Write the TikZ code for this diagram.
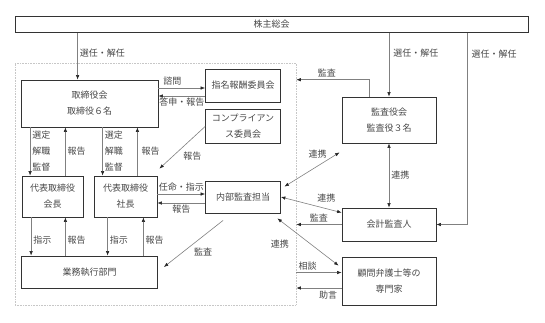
\documentclass[tikz,border=0pt]{standalone}
\usepackage{fontspec}
\newfontfamily\jpfont{Noto Sans CJK JP}
\usetikzlibrary{positioning,arrows.meta}

\begin{document}
\begin{tikzpicture}[
    x=1pt, y=-1pt,
    every node/.style={font=\jpfont\fontsize{9}{16}\selectfont, text=black!72},
    box/.style={draw=black!80, line width=0.8pt, align=center, inner sep=0pt},
    company/.style={draw=black!22, densely dotted, line width=0.6pt},
    lbl/.style={align=left, inner sep=2pt},
    arr/.style={-{Latex[length=4.5pt,width=3.5pt,color=black!85]}, draw=black!50, line width=0.6pt},
    both/.style={{Latex[length=4.5pt,width=3.5pt,color=black!85]}-{Latex[length=4.5pt,width=3.5pt,color=black!85]}, draw=black!50, line width=0.6pt}
]
\useasboundingbox (0,0) rectangle (545,322);
\node[company, minimum width=281pt, minimum height=242pt] (co) at (155.5,184) {};
\node[box, minimum width=513pt, minimum height=16pt] (soukai) at (271.5,24.5) {株主総会};
\node[box, minimum width=137pt, minimum height=47pt] (dir) at (89.5,103.5) {取締役会\\取締役６名};
\node[box, minimum width=75pt, minimum height=33pt] (nom) at (243,85.5) {指名報酬委員会};
\node[box, minimum width=75pt, minimum height=34pt] (comp) at (243,126.5) {コンプライアン\\ス委員会};
\node[box, minimum width=94pt, minimum height=46pt] (kansa) at (389,120) {監査役会\\監査役３名};
\node[box, minimum width=61pt, minimum height=41pt] (kaicho) at (52.5,196.5) {代表取締役\\会長};
\node[box, minimum width=63pt, minimum height=41pt] (shacho) at (125.5,196.5) {代表取締役\\社長};
\node[box, minimum width=75pt, minimum height=32pt] (naibu) at (243,197) {内部監査担当};
\node[box, minimum width=94pt, minimum height=33pt] (kaikei) at (389,224.5) {会計監査人};
\node[box, minimum width=94pt, minimum height=48pt] (bengo) at (389,281) {顧問弁護士等の\\専門家};
\node[box, minimum width=136pt, minimum height=32pt] (gyomu) at (89.5,272) {業務執行部門};

% 株主総会
\draw[arr] ([xshift=57pt]dir.north west |- soukai.south) -- ([xshift=57pt]dir.north west)
    node[lbl, right, pos=.43] (t1) {選任・解任};
\draw[arr] (kansa.north |- soukai.south) -- (kansa.north)
    node[lbl, right=2pt, pos=.32] (t2) {選任・解任};
\draw[arr] ([xshift=31pt]kaikei.east |- soukai.south) |- (kaikei.east)
    node[lbl, right=2pt, pos=.055] (t3) {選任・解任};

% 取締役会 - 委員会
\draw[arr] ([yshift=15.5pt]dir.east) -- ([yshift=15.5pt]dir.east -| nom.west)
    node[lbl, above, pos=.3] (t4) {諮問};
\draw[arr] ([yshift=7.5pt]dir.east -| nom.west) -- ([yshift=7.5pt]dir.east)
    node[lbl, below, pos=.5] (t5) {答申・報告};
\draw[arr] (comp.west) -- ([xshift=2pt,yshift=7pt]shacho.north east)
    node[lbl, pos=.7, right=8pt] (t6) {報告};

% 社長 - 内部監査担当
\draw[arr] ([yshift=2.5pt]shacho.east) -- ([yshift=2.5pt]shacho.east -| naibu.west)
    node[lbl, above, pos=.5] (t7) {任命・指示};
\draw[arr] ([yshift=-6.5pt]shacho.east -| naibu.west) -- ([yshift=-6.5pt]shacho.east)
    node[lbl, below, pos=.5] (t8) {報告};
\draw[arr] ([xshift=18pt,yshift=-7pt]naibu.south west) -- ([xshift=6pt,yshift=5pt]gyomu.east)
    node[lbl, pos=.58, below right=-2pt and 3pt] (t9) {監査};

% 監査役会・会計監査人
\draw[arr] ([xshift=-20pt]kansa.north) |- ([yshift=-17pt]co.north east)
    node[lbl, above, pos=.79] (t10) {監査};
\draw[both] (kansa.south) -- (kaikei.north)
    node[lbl, right, pos=.5] (t11) {連携};
\draw[both] ([xshift=-2pt,yshift=-9pt]kansa.south west) -- ([xshift=3.5pt,yshift=-6pt]naibu.north east)
    node[lbl, above=6pt, pos=.4] (t12) {連携};
\draw[both] (naibu.east) -- ([yshift=-5pt]kaikei.north west)
    node[lbl, above=4pt, pos=.75] (t13) {連携};
\draw[arr] (kaikei.west) -- (kaikei.west -| co.east)
    node[lbl, above, pos=.5] (t14) {監査};

% 顧問弁護士
\draw[both] ([xshift=-3.5pt,yshift=-5pt]naibu.south east) -- ([xshift=-3pt,yshift=-9pt]bengo.north west)
    node[lbl, pos=.55, left=20pt] (t15) {連携};
\draw[arr] ([yshift=8.5pt]bengo.west -| co.east) -- ([yshift=8.5pt]bengo.west)
    node[lbl, above, pos=.25] (t16) {相談};
\draw[arr] ([yshift=-7pt]bengo.west) -- ([yshift=-7pt]bengo.west -| co.east)
    node[lbl, below=1pt, pos=.3] (t17) {助言};

% 取締役会 - 代表取締役
\draw[arr] ([xshift=9.5pt]dir.south west) -- ([xshift=9.5pt]dir.south west |- kaicho.north)
    node[lbl, right, pos=.5] (t18) {選定\\解職\\監督};
\draw[arr] ([xshift=-18pt]kaicho.north east) -- ([xshift=-18pt]kaicho.north east |- dir.south)
    node[lbl, right, pos=.5] (t19) {報告};
\draw[arr] ([xshift=9pt]shacho.north west |- dir.south) -- ([xshift=9pt]shacho.north west)
    node[lbl, right, pos=.5] (t20) {選定\\解職\\監督};
\draw[arr] ([xshift=-20pt]shacho.north east) -- ([xshift=-20pt]shacho.north east |- dir.south)
    node[lbl, right=2pt, pos=.5] (t21) {報告};

% 代表取締役 - 業務執行部門
\draw[arr] ([xshift=9.5pt]kaicho.south west) -- ([xshift=9.5pt]kaicho.south west |- gyomu.north)
    node[lbl, right, pos=.6] (t22) {指示};
\draw[arr] ([xshift=-18pt]kaicho.south east |- gyomu.north) -- ([xshift=-18pt]kaicho.south east)
    node[lbl, right, pos=.4] (t23) {報告};
\draw[arr] ([xshift=14pt]shacho.south west) -- ([xshift=14pt]shacho.south west |- gyomu.north)
    node[lbl, right, pos=.6] (t24) {指示};
\draw[arr] ([xshift=-14pt]shacho.south east |- gyomu.north) -- ([xshift=-14pt]shacho.south east)
    node[lbl, right, pos=.4] (t25) {報告};
\end{tikzpicture}
\end{document}
